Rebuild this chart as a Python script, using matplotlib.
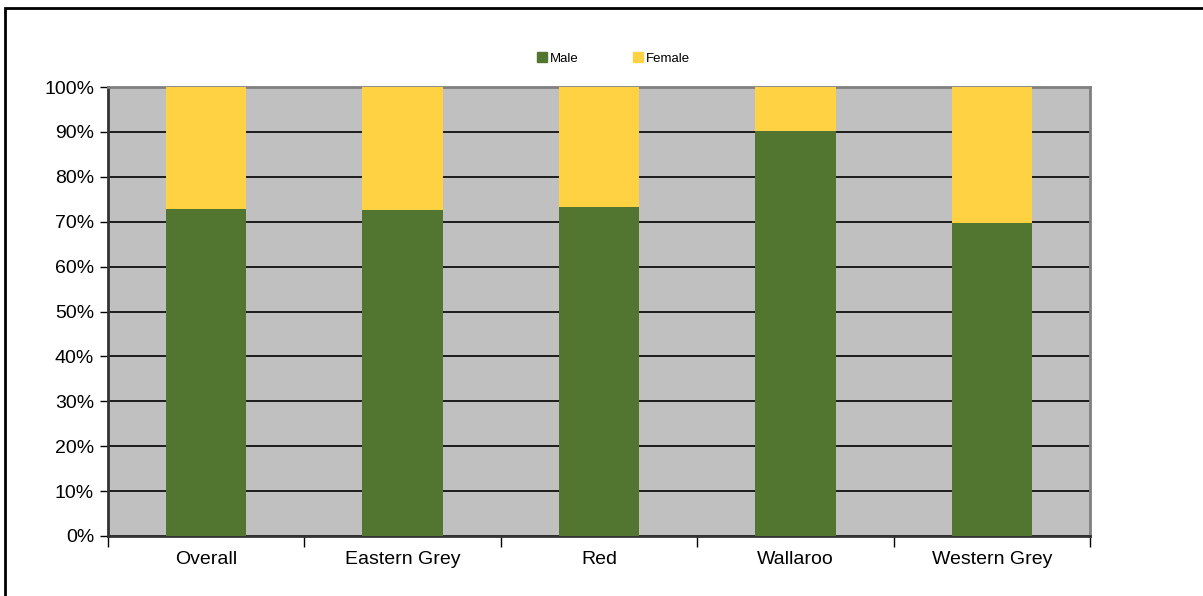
import numpy as np
import matplotlib
matplotlib.use('Agg')
import matplotlib.pyplot as plt
from matplotlib.patches import Rectangle
from matplotlib.lines import Line2D

plt.rcParams['font.family'] = ['Liberation Sans', 'DejaVu Sans']

categories = ['Overall', 'Eastern Grey', 'Red', 'Wallaroo', 'Western Grey']
male = [72.8, 72.6, 73.3, 90.1, 69.6]
female = [100 - v for v in male]

GREEN = '#52762F'
YELLOW = '#FFD244'

fig = plt.figure(figsize=(12.03, 5.96), dpi=100)
ax = fig.add_axes([108/1203, 1 - 536/596, (1090-108)/1203, (536-87)/596])

# outer chart frame
fig.patches.append(Rectangle((5/1203, -0.2), 1.2, 1.2 - 8/596,
                             transform=fig.transFigure, fill=False,
                             edgecolor='black', linewidth=2, zorder=0))

x = np.arange(len(categories))
ax.set_facecolor('#C0C0C0')
ax.bar(x, male, width=0.41, color=GREEN, zorder=3)
ax.bar(x, female, bottom=male, width=0.41, color=YELLOW, zorder=3)

ax.set_xlim(-0.5, len(categories) - 0.5)
ax.set_ylim(0, 100)
ax.set_yticks(np.arange(0, 101, 10))
ax.set_yticklabels([f'{v}%' for v in range(0, 101, 10)], fontsize=14)
ax.yaxis.grid(True, color='black', linewidth=1.2, zorder=1)
ax.set_axisbelow(True)

ax.set_xticks(np.arange(-0.5, len(categories), 1.0))
ax.set_xticklabels([])
ax.set_xticks(x, minor=True)
ax.set_xticklabels(categories, minor=True, fontsize=14)
ax.tick_params(axis='x', which='major', direction='out', length=8, width=1)
ax.tick_params(axis='x', which='minor', length=0, pad=11)
ax.tick_params(axis='y', direction='out', length=6, width=1, pad=4)

for s in ['top', 'right']:
    ax.spines[s].set_color('#808080')
    ax.spines[s].set_linewidth(2)
for s in ['left', 'bottom']:
    ax.spines[s].set_color('#333333')
    ax.spines[s].set_linewidth(2)

handles = [Line2D([], [], linestyle='None', marker='s', markersize=7,
                  markerfacecolor=GREEN, markeredgecolor=GREEN, label='Male'),
           Line2D([], [], linestyle='None', marker='s', markersize=7,
                  markerfacecolor=YELLOW, markeredgecolor=YELLOW, label='Female')]
fig.legend(handles=handles, loc='center', bbox_to_anchor=(614/1203, 1 - 59/596),
           ncol=2, frameon=False, fontsize=9.5, handlelength=0.6,
           handletextpad=0.3, columnspacing=4.2)

plt.savefig('out.png', dpi=100)
